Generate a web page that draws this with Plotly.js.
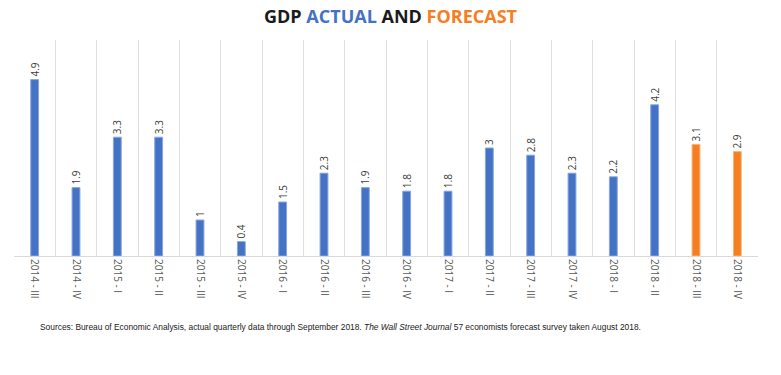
<!DOCTYPE html>
<html>
<head>
<meta charset="utf-8">
<script src="https://cdn.plot.ly/plotly-3.0.1.min.js"></script>
<style>html,body{margin:0;padding:0;background:#fff;}#chart{width:781px;height:375px;}</style>
</head>
<body>
<div id="chart"></div>
<script>
const categories = ["2014 - III","2014 - IV","2015 - I","2015 - II","2015 - III","2015 - IV","2016 - I","2016 - II","2016 - III","2016 - IV","2017 - I","2017 - II","2017 - III","2017 - IV","2018 - I","2018 - II","2018 - III","2018 - IV"];
const gdpValues = [4.9,1.9,3.3,3.3,1,0.4,1.5,2.3,1.9,1.8,1.8,3,2.8,2.3,2.2,4.2,3.1,2.9];
const isForecast = [false,false,false,false,false,false,false,false,false,false,false,false,false,false,false,false,true,true];
const actualColor = "#4472C4";
const forecastColor = "#F57E20";

const trace = {
  type: "bar",
  x: categories,
  y: gdpValues,
  width: 0.19,
  marker: {
    color: isForecast.map(f => f ? forecastColor : actualColor),
    line: {color: isForecast.map(f => f ? "#f9b27a" : "#8aa6dc"), width: 1}
  },
  text: gdpValues.map(v => String(v)),
  textposition: "outside",
  textangle: -90,
  constraintext: "none",
  cliponaxis: false,
  textfont: {family: "Open Sans, sans-serif", size: 10, color: "#404040"},
  hoverinfo: "x+y"
};

const layout = {
  width: 781, height: 375,
  margin: {l: 14, r: 23, t: 40, b: 119},
  paper_bgcolor: "#fff", plot_bgcolor: "#fff",
  showlegend: false,
  title: {
    text: "<b>GDP <span style='color:" + actualColor + "'>ACTUAL</span> AND <span style='color:" + forecastColor + "'>FORECAST</span></b>",
    font: {family: "Open Sans, sans-serif", size: 18, color: "#1a1a1a"},
    x: 0.5, xanchor: "center", y: 0.955, yanchor: "middle"
  },
  xaxis: {
    type: "category",
    tickson: "boundaries",
    showgrid: true, gridcolor: "#dedede", gridwidth: 1,
    showline: true, linecolor: "#d9d9d9", linewidth: 1,
    ticks: "", tickangle: 90,
    tickfont: {family: "Open Sans, sans-serif", size: 10, color: "#595959"},
    fixedrange: true
  },
  yaxis: {
    range: [0, 6],
    showgrid: false, zeroline: false, showline: false,
    showticklabels: false, ticks: "",
    fixedrange: true
  },
  annotations: [{
    text: "Sources: Bureau of Economic Analysis, actual quarterly data through September 2018. <i>The Wall Street Journal</i> 57 economists forecast survey taken August 2018.",
    xref: "paper", yref: "paper",
    x: (38 - 14) / 744, xanchor: "left",
    y: -0.33, yanchor: "middle",
    showarrow: false,
    font: {family: "Liberation Sans, Arial, sans-serif", size: 8.4, color: "#222"}
  }]
};

Plotly.newPlot("chart", [trace], layout, {displayModeBar: false, staticPlot: true});
</script>
</body>
</html>
